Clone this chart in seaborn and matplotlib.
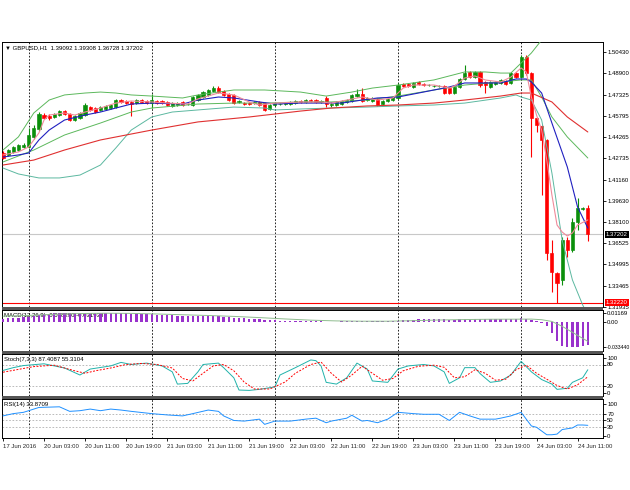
import matplotlib
matplotlib.use("Agg")
import matplotlib.pyplot as plt
import matplotlib.transforms as mtransforms
from matplotlib.patches import Rectangle
import seaborn as sns

# ---------------- data ----------------
title_text = "\u25BC GBPUSD,H1  1.39092 1.39308 1.36728 1.37202"

bar_open = [
    1.4309, 1.4295, 1.4317, 1.4331, 1.4353, 1.4353, 1.4426, 1.4484, 1.4585, 1.4578,
    1.4571, 1.4585, 1.4614, 1.4593, 1.4549, 1.4564, 1.4585, 1.4643, 1.4636, 1.4622,
    1.4629, 1.4636, 1.4643, 1.4694, 1.4687, 1.4680, 1.4672, 1.4694, 1.4687, 1.4672,
    1.4687, 1.4687, 1.4680, 1.4651, 1.4658, 1.4680, 1.4665, 1.4658, 1.4694, 1.4716,
    1.4731, 1.4760, 1.4781, 1.4760, 1.4738, 1.4731, 1.4680, 1.4672, 1.4672, 1.4672,
    1.4680, 1.4672, 1.4629, 1.4658, 1.4665, 1.4665, 1.4665, 1.4672, 1.4687, 1.4680,
    1.4694, 1.4694, 1.4680, 1.4709, 1.4658, 1.4658, 1.4665, 1.4680, 1.4687, 1.4723,
    1.4738, 1.4694, 1.4687, 1.4702, 1.4665, 1.4687, 1.4694, 1.4709, 1.4811, 1.4811,
    1.4789, 1.4825, 1.4811, 1.4803, 1.4796, 1.4796, 1.4796, 1.4781, 1.4745, 1.4789,
    1.4847, 1.4898, 1.4861, 1.4898, 1.4825, 1.4789, 1.4811, 1.4818, 1.4832, 1.4818,
    1.4890, 1.4861, 1.5007, 1.4890, 1.4564, 1.4505, 1.4404, 1.3583, 1.3437, 1.3387,
    1.3677, 1.3605, 1.3808, 1.3902, 1.39092]
bar_high = [
    1.4324, 1.4338, 1.4360, 1.4375, 1.4382, 1.4491, 1.4513, 1.4607, 1.4600, 1.4593,
    1.4600, 1.4622, 1.4622, 1.4600, 1.4585, 1.4607, 1.4672, 1.4651, 1.4643, 1.4651,
    1.4658, 1.4665, 1.4702, 1.4702, 1.4694, 1.4687, 1.4702, 1.4702, 1.4694, 1.4738,
    1.4694, 1.4694, 1.4687, 1.4680, 1.4680, 1.4687, 1.4672, 1.4723, 1.4738, 1.4760,
    1.4774, 1.4796, 1.4796, 1.4767, 1.4745, 1.4738, 1.4694, 1.4680, 1.4680, 1.4687,
    1.4687, 1.4680, 1.4665, 1.4680, 1.4672, 1.4680, 1.4687, 1.4694, 1.4694, 1.4702,
    1.4702, 1.4702, 1.4694, 1.4723, 1.4680, 1.4687, 1.4694, 1.4702, 1.4738, 1.4774,
    1.4781, 1.4716, 1.4716, 1.4709, 1.4694, 1.4709, 1.4723, 1.4818, 1.4818, 1.4818,
    1.4825, 1.4832, 1.4818, 1.4811, 1.4803, 1.4803, 1.4803, 1.4789, 1.4796, 1.4854,
    1.4949, 1.4905, 1.4905, 1.4905, 1.4832, 1.4832, 1.4832, 1.4847, 1.4840, 1.4898,
    1.4898, 1.5021, 1.5021, 1.4898, 1.4571, 1.4513, 1.4411, 1.3677, 1.3445, 1.3699,
    1.3699, 1.3837, 1.3982, 1.3917, 1.39308]
bar_low = [
    1.4266, 1.4287, 1.4309, 1.4324, 1.4346, 1.4346, 1.4411, 1.4469, 1.4556, 1.4549,
    1.4564, 1.4578, 1.4585, 1.4542, 1.4542, 1.4556, 1.4578, 1.4614, 1.4600, 1.4614,
    1.4622, 1.4629, 1.4636, 1.4672, 1.4665, 1.4578, 1.4665, 1.4672, 1.4665, 1.4636,
    1.4665, 1.4665, 1.4651, 1.4643, 1.4651, 1.4651, 1.4658, 1.4651, 1.4687, 1.4709,
    1.4723, 1.4752, 1.4745, 1.4723, 1.4687, 1.4665, 1.4672, 1.4658, 1.4658, 1.4665,
    1.4651, 1.4614, 1.4622, 1.4651, 1.4658, 1.4658, 1.4658, 1.4665, 1.4672, 1.4672,
    1.4680, 1.4672, 1.4672, 1.4643, 1.4643, 1.4651, 1.4658, 1.4672, 1.4680, 1.4716,
    1.4680, 1.4687, 1.4680, 1.4651, 1.4658, 1.4680, 1.4687, 1.4702, 1.4789, 1.4789,
    1.4781, 1.4803, 1.4796, 1.4796, 1.4789, 1.4789, 1.4738, 1.4738, 1.4738, 1.4781,
    1.4840, 1.4854, 1.4854, 1.4789, 1.4745, 1.4781, 1.4803, 1.4811, 1.4803, 1.4811,
    1.4854, 1.4854, 1.4876, 1.4280, 1.4462, 1.4004, 1.3532, 1.3299, 1.3220, 1.3350,
    1.3554, 1.3590, 1.3750, 1.3895, 1.36728]
bar_close = [
    1.4273, 1.4331, 1.4353, 1.4367, 1.4367, 1.4440, 1.4491, 1.4593, 1.4564, 1.4564,
    1.4593, 1.4614, 1.4593, 1.4549, 1.4578, 1.4600, 1.4658, 1.4622, 1.4607, 1.4643,
    1.4651, 1.4658, 1.4694, 1.4680, 1.4672, 1.4665, 1.4694, 1.4680, 1.4672, 1.4694,
    1.4672, 1.4672, 1.4658, 1.4672, 1.4672, 1.4658, 1.4665, 1.4716, 1.4731, 1.4752,
    1.4767, 1.4781, 1.4752, 1.4731, 1.4694, 1.4672, 1.4687, 1.4665, 1.4665, 1.4680,
    1.4658, 1.4622, 1.4658, 1.4672, 1.4665, 1.4672, 1.4680, 1.4687, 1.4680, 1.4694,
    1.4687, 1.4680, 1.4687, 1.4665, 1.4665, 1.4680, 1.4687, 1.4694, 1.4731, 1.4738,
    1.4687, 1.4709, 1.4709, 1.4658, 1.4687, 1.4702, 1.4716, 1.4803, 1.4796, 1.4796,
    1.4818, 1.4811, 1.4803, 1.4803, 1.4796, 1.4796, 1.4745, 1.4745, 1.4789, 1.4847,
    1.4890, 1.4861, 1.4898, 1.4803, 1.4803, 1.4825, 1.4825, 1.4840, 1.4811, 1.4890,
    1.4861, 1.5007, 1.4890, 1.4564, 1.4513, 1.4404, 1.3583, 1.3445, 1.3365, 1.3677,
    1.3605, 1.3808, 1.3910, 1.3910, 1.37202]

# moving averages / bands (bar index, price)
ma_fast_x = [0, 3, 5, 7, 8, 9, 12, 14, 16, 19, 22, 25, 29, 32, 36, 38, 42, 45, 48, 50,
             53, 58, 62, 64, 67, 70, 73, 76, 78, 80, 84, 87, 88, 90, 92, 94, 97, 99, 101,
             102, 103, 104, 105, 106, 107, 108, 109, 110, 111, 112, 114]
ma_fast_y = [1.4295, 1.4317, 1.4353, 1.4455, 1.4549, 1.4585, 1.4600, 1.4585, 1.4607, 1.4636,
             1.4672, 1.4687, 1.4680, 1.4672, 1.4665, 1.4702, 1.4745, 1.4731, 1.4680, 1.4658,
             1.4672, 1.4680, 1.4680, 1.4672, 1.4694, 1.4716, 1.4694, 1.4709, 1.4781, 1.4803,
             1.4803, 1.4781, 1.4796, 1.4854, 1.4869, 1.4840, 1.4825, 1.4861, 1.4927, 1.4898,
             1.4716, 1.4585, 1.4476, 1.4258, 1.4004, 1.3786, 1.3735, 1.3706, 1.3728, 1.3786,
             1.3823]
ma_mid_x = [0, 3, 5, 7, 9, 12, 16, 19, 22, 25, 29, 35, 38, 42, 45, 50, 53, 58, 66, 70, 73,
            77, 81, 84, 87, 90, 97, 100, 102, 103, 105, 107, 110, 112, 114]
ma_mid_y = [1.4280, 1.4295, 1.4309, 1.4404, 1.4476, 1.4549, 1.4585, 1.4607, 1.4636, 1.4665,
            1.4672, 1.4665, 1.4694, 1.4716, 1.4709, 1.4680, 1.4665, 1.4672, 1.4672, 1.4694,
            1.4709, 1.4716, 1.4745, 1.4767, 1.4789, 1.4818, 1.4818, 1.4847, 1.4847, 1.4825,
            1.4745, 1.4527, 1.4208, 1.3917, 1.3764]
ma_slow_x = [0, 6, 12, 19, 29, 38, 48, 58, 64, 71, 77, 84, 90, 97, 101, 103, 107, 110, 114]
ma_slow_y = [1.4222, 1.4258, 1.4331, 1.4404, 1.4476, 1.4535, 1.4571, 1.4614, 1.4636, 1.4651,
             1.4658, 1.4672, 1.4694, 1.4723, 1.4745, 1.4745, 1.4680, 1.4571, 1.4462]
bb_up_x = [0, 3, 6, 9, 12, 16, 19, 22, 25, 29, 32, 35, 38, 42, 45, 51, 58, 63, 68, 72, 77,
           84, 90, 94, 97, 99, 101, 103, 105, 107]
bb_up_y = [1.4331, 1.4426, 1.4600, 1.4694, 1.4731, 1.4745, 1.4752, 1.4745, 1.4731, 1.4723,
           1.4716, 1.4709, 1.4731, 1.4752, 1.4767, 1.4767, 1.4752, 1.4723, 1.4752, 1.4781,
           1.4803, 1.4840, 1.4898, 1.4898, 1.4890, 1.4890, 1.4963, 1.5036, 1.5130, 1.5239]
bb_mid_x = [0, 6, 12, 19, 25, 29, 38, 45, 51, 58, 64, 71, 77, 84, 90, 97, 101, 103, 105,
            107, 110, 114]
bb_mid_y = [1.4244, 1.4331, 1.4440, 1.4527, 1.4607, 1.4636, 1.4665, 1.4672, 1.4672, 1.4680,
            1.4680, 1.4694, 1.4723, 1.4767, 1.4803, 1.4825, 1.4840, 1.4840, 1.4716, 1.4571,
            1.4426, 1.4273]
bb_low_x = [0, 3, 7, 11, 15, 19, 22, 25, 29, 33, 38, 45, 51, 53, 58, 64, 71, 77, 84, 90,
            97, 100, 101, 103, 105, 107, 109, 111, 113, 114]
bb_low_y = [1.4200, 1.4157, 1.4128, 1.4128, 1.4149, 1.4222, 1.4346, 1.4476, 1.4571, 1.4607,
            1.4622, 1.4643, 1.4636, 1.4622, 1.4629, 1.4636, 1.4643, 1.4651, 1.4658, 1.4672,
            1.4709, 1.4731, 1.4716, 1.4694, 1.4549, 1.4164, 1.3677, 1.3387, 1.3205, 1.3132]

current_price = 1.37202
low_line = 1.32220
price_ticks = [1.50430, 1.48900, 1.47325, 1.45795, 1.44265, 1.42735, 1.41160,
               1.39630, 1.38100, 1.36525, 1.34995, 1.33465, 1.31935]

macd_hist = [
    0.0040, 0.0045, 0.0050, 0.0055, 0.0060, 0.0070, 0.0082, 0.0095, 0.0104, 0.0110,
    0.0113, 0.0116, 0.0117, 0.0115, 0.0114, 0.0115, 0.0117, 0.0117, 0.0116, 0.0115,
    0.0114, 0.0113, 0.0114, 0.0113, 0.0111, 0.0108, 0.0106, 0.0103, 0.0100, 0.0098,
    0.0095, 0.0092, 0.0089, 0.0086, 0.0083, 0.0080, 0.0077, 0.0076, 0.0075, 0.0075,
    0.0075, 0.0074, 0.0072, 0.0068, 0.0063, 0.0057, 0.0052, 0.0047, 0.0042, 0.0038,
    0.0034, 0.0028, 0.0024, 0.0020, 0.0017, 0.0014, 0.0012, 0.0010, 0.0009, 0.0008,
    0.0007, 0.0006, 0.0005, 0.0004, 0.0004, 0.0004, 0.0005, 0.0005, 0.0006, 0.0007,
    0.0006, 0.0007, 0.0008, 0.0007, 0.0008, 0.0009, 0.0010, 0.0015, 0.0020, 0.0024,
    0.0028, 0.0031, 0.0033, 0.0034, 0.0034, 0.0034, 0.0032, 0.0030, 0.0030, 0.0032,
    0.0036, 0.0038, 0.0040, 0.0038, 0.0035, 0.0033, 0.0032, 0.0032, 0.0033, 0.0036,
    0.0037, 0.0045, 0.0043, 0.0025, 0.0005, -0.0020, -0.0060, -0.0150, -0.0260, -0.0320,
    -0.0334, -0.0334, -0.0330, -0.0325, -0.0310]
macd_sig_x = [0, 5, 10, 15, 20, 25, 30, 35, 40, 45, 50, 55, 60, 65, 70, 75, 80, 85, 90, 95,
              100, 103, 105, 107, 109, 111, 113, 114]
macd_sig_y = [0.0075, 0.0085, 0.0100, 0.0110, 0.0114, 0.0112, 0.0104, 0.0094, 0.0084, 0.0072,
              0.0056, 0.0038, 0.0022, 0.0012, 0.0008, 0.0008, 0.0015, 0.0024, 0.0030, 0.0034,
              0.0035, 0.0036, 0.0028, 0.0005, -0.0060, -0.0140, -0.0220, -0.0260]
macd_ticks = [0.01169, 0.0, -0.03344]
macd_tick_labels = ["0.01169", "0.00", "-0.033440"]

stoch_main_x = [0, 2, 4, 8, 12, 15, 17, 21, 23, 25, 28, 31, 33, 34, 36, 38, 39, 42, 43, 45,
                46, 48, 50, 53, 54, 57, 60, 61, 62, 63, 65, 67, 69, 71, 72, 75, 77, 79, 82,
                84, 86, 87, 89, 90, 92, 93, 95, 97, 99, 101, 103, 105, 107, 108, 110, 111,
                113, 114]
stoch_main_y = [63, 71, 77, 82, 70, 50, 67, 76, 86, 80, 84, 76, 59, 24, 26, 59, 80, 84, 71, 42,
                7, 6, 9, 16, 50, 71, 93, 91, 76, 29, 24, 42, 84, 67, 33, 29, 67, 76, 80,
                76, 59, 26, 42, 71, 71, 54, 29, 33, 50, 89, 59, 37, 24, 9, 12, 29,
                42, 65]
stoch_sig_x = [0, 3, 6, 10, 14, 16, 18, 21, 24, 27, 30, 33, 35, 37, 39, 41, 43, 45, 47, 49,
               52, 55, 57, 60, 62, 64, 66, 68, 70, 72, 74, 76, 78, 81, 84, 86, 88, 90, 92,
               94, 96, 98, 100, 102, 104, 106, 108, 110, 112, 114]
stoch_sig_y = [58, 66, 74, 78, 62, 55, 62, 70, 80, 83, 80, 70, 40, 33, 55, 76, 80, 62, 30, 10,
               10, 30, 55, 80, 87, 55, 30, 50, 75, 55, 35, 40, 62, 75, 78, 72, 42, 45, 65,
               55, 35, 38, 65, 78, 55, 38, 20, 10, 22, 45]

rsi_x = [0, 2, 4, 6, 7, 11, 13, 15, 17, 19, 21, 23, 25, 29, 32, 35, 37, 40, 42, 43, 45, 47,
         50, 51, 53, 56, 59, 61, 63, 64, 67, 68, 70, 71, 73, 75, 77, 80, 82, 85, 87, 89, 91,
         93, 96, 97, 99, 101, 103, 104, 106, 107, 108, 109, 111, 112, 113, 114]
rsi_y = [63, 70, 74, 84, 89, 91, 77, 79, 84, 79, 84, 81, 77, 70, 66, 63, 70, 81, 77, 63, 49, 47,
         53, 37, 47, 47, 53, 56, 42, 47, 56, 65, 47, 49, 42, 53, 74, 70, 68, 68, 49, 74, 63,
         53, 53, 56, 63, 74, 32, 28, 5, 5, 7, 21, 26, 35, 35, 34]

day_starts = [5, 29, 53, 77, 101]
time_label_bars = [0, 8, 16, 24, 32, 40, 48, 56, 64, 72, 80, 88, 96, 104, 112]
time_labels = ["17 Jun 2016", "20 Jun 03:00", "20 Jun 11:00", "20 Jun 19:00",
               "21 Jun 03:00", "21 Jun 11:00", "21 Jun 19:00", "22 Jun 03:00",
               "22 Jun 11:00", "22 Jun 19:00", "23 Jun 03:00", "23 Jun 11:00",
               "23 Jun 19:00", "24 Jun 03:00", "24 Jun 11:00"]

macd_label = "MACD(12,26,9) -0.028290 -0.031938"
stoch_label = "Stoch(7,3,3) 87.4087 55.3104"
rsi_label = "RSI(14) 33.8709"

# ---------------- styling ----------------
sns.set_theme(style="white")
plt.rcParams["font.family"] = ["Liberation Sans", "DejaVu Sans"]
FS = 4.3
BULL = "#0b8f0b"
BEAR = "#ff0000"

W, H = 630, 490
fig = plt.figure(figsize=(6.3, 4.9), dpi=100)
fig.patch.set_facecolor("white")


def rect(x0, y0, x1, y1):
    return [x0 / W, 1 - y1 / H, (x1 - x0) / W, (y1 - y0) / H]


ax_p = fig.add_axes(rect(2, 42, 603, 307))
ax_m = fig.add_axes(rect(2, 310, 603, 351))
ax_s = fig.add_axes(rect(2, 354, 603, 396))
ax_r = fig.add_axes(rect(2, 399, 603, 438))
axes = [ax_p, ax_m, ax_s, ax_r]

for (y0, y1) in [(307, 310), (351, 354), (396, 399)]:
    fig.add_artist(Rectangle((2 / W, 1 - y1 / H), 601 / W, (y1 - y0) / H,
                             transform=fig.transFigure, color="#555555", lw=0))

xlim = (-0.195, 116.96)
for ax in axes:
    ax.set_facecolor("white")
    ax.set_xlim(*xlim)
    for sp in ax.spines.values():
        sp.set_color("black")
        sp.set_linewidth(0.7)
    for b in day_starts:
        ax.axvline(b, color="black", lw=0.6, ls=(0, (2, 2)), zorder=1)
    ax.yaxis.tick_right()
    ax.tick_params(axis="y", length=2.2, width=0.6, pad=0.8, labelsize=FS,
                   direction="out", color="black", labelcolor="black", left=False, right=True)
    ax.tick_params(axis="x", bottom=False, labelbottom=False)
    ax.grid(False)

# ---- price panel ----
idx = list(range(len(bar_open)))
colors = [BULL if c >= o else BEAR for o, c in zip(bar_open, bar_close)]
ax_p.axhline(current_price, color="#c8c8c8", lw=0.8, zorder=1)
ax_p.axhline(low_line, color="#ff0000", lw=0.8, zorder=1)
ax_p.vlines(idx, bar_low, bar_high, colors=colors, linewidth=0.8, zorder=3)
ax_p.bar(idx, [c - o for o, c in zip(bar_open, bar_close)], bottom=bar_open, width=0.62,
         color=colors, edgecolor=colors, linewidth=0.45, zorder=3)

line_kw = dict(ax=ax_p, legend=False, sort=False, zorder=4)
sns.lineplot(x=bb_up_x, y=bb_up_y, color="#5cb85c", linewidth=0.7, **line_kw)
sns.lineplot(x=bb_mid_x, y=bb_mid_y, color="#5cb85c", linewidth=0.7, **line_kw)
sns.lineplot(x=bb_low_x, y=bb_low_y, color="#5cb8a0", linewidth=0.7, **line_kw)
sns.lineplot(x=ma_slow_x, y=ma_slow_y, color="#e03030", linewidth=0.8, **line_kw)
sns.lineplot(x=ma_mid_x, y=ma_mid_y, color="#2020c0", linewidth=0.8, **line_kw)
sns.lineplot(x=ma_fast_x, y=ma_fast_y, color="#f08a9a", linewidth=0.8, **line_kw)

ax_p.set_ylim(1.31904, 1.51157)
ax_p.set_yticks(price_ticks)
ax_p.set_yticklabels([f"{v:.5f}" for v in price_ticks])
ax_p.set_xlabel("")
ax_p.set_ylabel("")
trans_p = mtransforms.blended_transform_factory(ax_p.transAxes, ax_p.transData)
ax_p.text(1.0045, current_price, f"{current_price:.5f}", transform=trans_p, fontsize=FS,
          color="white", va="center", ha="left", zorder=6,
          bbox=dict(boxstyle="square,pad=0.18", fc="black", ec="none"))
ax_p.text(1.0045, low_line, f"{low_line:.5f}", transform=trans_p, fontsize=FS,
          color="white", va="center", ha="left", zorder=6,
          bbox=dict(boxstyle="square,pad=0.18", fc="#ff0000", ec="none"))
ax_p.text(0.005, 0.986, title_text, transform=ax_p.transAxes, fontsize=FS, va="top",
          ha="left", color="black")

# ---- MACD panel ----
ax_m.bar(idx, macd_hist, width=0.45, color="#9932cc", lw=0, zorder=3)
sns.lineplot(x=macd_sig_x, y=macd_sig_y, ax=ax_m, color="#8fbc8f", linewidth=0.7,
             legend=False, sort=False, zorder=4)
ax_m.set_ylim(-0.0388, 0.0157)
ax_m.set_yticks(macd_ticks)
ax_m.set_yticklabels(macd_tick_labels)
ax_m.get_yticklabels()[-1].set_fontsize(3.7)
ax_m.set_xlabel("")
ax_m.set_ylabel("")
ax_m.text(0.004, 0.93, macd_label, transform=ax_m.transAxes, fontsize=FS, va="top",
          ha="left", color="black", zorder=2)

# ---- Stochastic panel ----
for lv in (80, 20):
    ax_s.axhline(lv, color="#b0b0b0", lw=0.6, ls=(0, (2, 2)), zorder=1)
sns.lineplot(x=stoch_main_x, y=stoch_main_y, ax=ax_s, color="#20b2aa", linewidth=0.7,
             legend=False, sort=False, zorder=4)
sns.lineplot(x=stoch_sig_x, y=stoch_sig_y, ax=ax_s, color="#ff0000", linewidth=0.7,
             linestyle=(0, (2, 1.5)), legend=False, sort=False, zorder=4)
ax_s.set_ylim(-10, 110)
ax_s.set_yticks([100, 80, 20, 0])
ax_s.set_yticklabels(["100", "80", "20", "0"])
ax_s.set_xlabel("")
ax_s.set_ylabel("")
ax_s.text(0.004, 0.93, stoch_label, transform=ax_s.transAxes, fontsize=FS, va="top",
          ha="left", color="black")

# ---- RSI panel ----
for lv in (70, 50, 30):
    ax_r.axhline(lv, color="#b0b0b0", lw=0.6, ls=(0, (2, 2)), zorder=1)
sns.lineplot(x=rsi_x, y=rsi_y, ax=ax_r, color="#1e90ff", linewidth=0.7,
             legend=False, sort=False, zorder=4)
ax_r.set_ylim(-5, 115)
ax_r.set_yticks([100, 70, 50, 30, 0])
ax_r.set_yticklabels(["100", "70", "50", "30", "0"])
ax_r.set_xlabel("")
ax_r.set_ylabel("")
ax_r.text(0.004, 0.93, rsi_label, transform=ax_r.transAxes, fontsize=FS, va="top",
          ha="left", color="black")
ax_r.tick_params(axis="x", bottom=True, labelbottom=True, length=2.5, width=0.6, pad=1.5,
                 labelsize=FS, direction="out", color="black")
ax_r.set_xticks(time_label_bars)
ax_r.set_xticklabels(time_labels)
for lab in ax_r.get_xticklabels():
    lab.set_horizontalalignment("left")

fig.savefig("out.png", dpi=100, facecolor="white")
